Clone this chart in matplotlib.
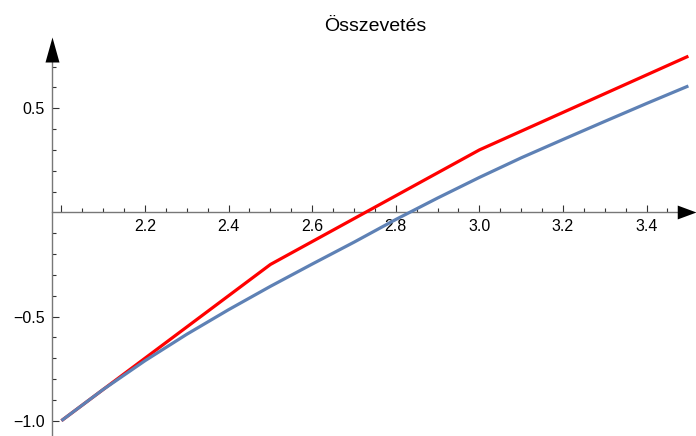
import matplotlib
matplotlib.use("Agg")
import matplotlib.pyplot as plt

plt.rcParams['font.family'] = ['Liberation Sans', 'DejaVu Sans']

# data
red_x = [2.0, 2.5, 3.0, 3.5]
red_y = [-1.0, -0.25, 0.30, 0.75]

blue_x = [2.0, 2.1, 2.2, 2.3, 2.4, 2.5, 2.6, 2.7, 2.8, 2.9, 3.0, 3.1, 3.2, 3.3, 3.4, 3.5]
blue_y = [-1.0, -0.850, -0.712, -0.585, -0.467, -0.355, -0.248, -0.143, -0.034,
          0.069, 0.168, 0.262, 0.350, 0.437, 0.523, 0.607]

x_major = [2.0, 2.2, 2.4, 2.6, 2.8, 3.0, 3.2, 3.4]
x_labels = ["", "2.2", "2.4", "2.6", "2.8", "3.0", "3.2", "3.4"]
x_minor = [2.05, 2.1, 2.15, 2.25, 2.3, 2.35, 2.45, 2.5, 2.55, 2.65, 2.7, 2.75,
           2.85, 2.9, 2.95, 3.05, 3.1, 3.15, 3.25, 3.3, 3.35, 3.45]
y_major = [-1.0, -0.5, 0.5]
y_labels = ["\u22121.0", "\u22120.5", "0.5"]
y_minor = [-0.9, -0.8, -0.7, -0.6, -0.4, -0.3, -0.2, -0.1, 0.1, 0.2, 0.3, 0.4, 0.6, 0.7]

y_axis_at = 1.977
x_lo, x_hi = 1.8531, 3.5182
y_lo, y_hi = -1.0734, 1.0197
y_tip = 0.8435

fig = plt.figure(figsize=(6.96, 4.36), dpi=100, facecolor='w')
ax = fig.add_axes([0, 0, 1, 1])
ax.set_xlim(x_lo, x_hi)
ax.set_ylim(y_lo, y_hi)

ax.plot(red_x, red_y, color='#FF0000', linewidth=2.3, solid_capstyle='butt', zorder=3)
ax.plot(blue_x, blue_y, color='#5E81B5', linewidth=2.3, solid_capstyle='butt', zorder=4)

# axes through the origin like Mathematica
for s in ['top', 'right']:
    ax.spines[s].set_visible(False)
ax.spines['bottom'].set_position(('data', 0))
ax.spines['left'].set_position(('data', y_axis_at))
ax.spines['bottom'].set_bounds(y_axis_at, x_hi - 0.02)
ax.spines['left'].set_bounds(y_lo, y_tip - 0.05)
for s in ['bottom', 'left']:
    ax.spines[s].set_color('#777777')
    ax.spines[s].set_linewidth(1.0)

ax.set_xticks(x_major)
ax.set_xticklabels(x_labels)
ax.set_xticks(x_minor, minor=True)
ax.set_yticks(y_major)
ax.set_yticklabels(y_labels)
ax.set_yticks(y_minor, minor=True)

ax.tick_params(which='major', direction='in', length=5.2, width=0.8, color='#333333',
               labelsize=11.5, pad=5)
ax.tick_params(which='minor', direction='in', length=3, width=0.8, color='#333333')

# arrow heads
ax.plot([x_hi], [0], marker=[(-1, -0.37), (0, 0), (-1, 0.37)], markersize=27,
        color='black', markeredgewidth=0, clip_on=False, zorder=5)
ax.plot([y_axis_at], [y_tip], marker=[(-0.28, -1), (0, 0), (0.28, -1)], markersize=36,
        color='black', markeredgewidth=0, clip_on=False, zorder=5)

fig.text(375 / 696, 1 - 31 / 436, "Összevetés", ha='center', va='baseline', fontsize=14)

fig.savefig("out.png", dpi=100, facecolor='w')
